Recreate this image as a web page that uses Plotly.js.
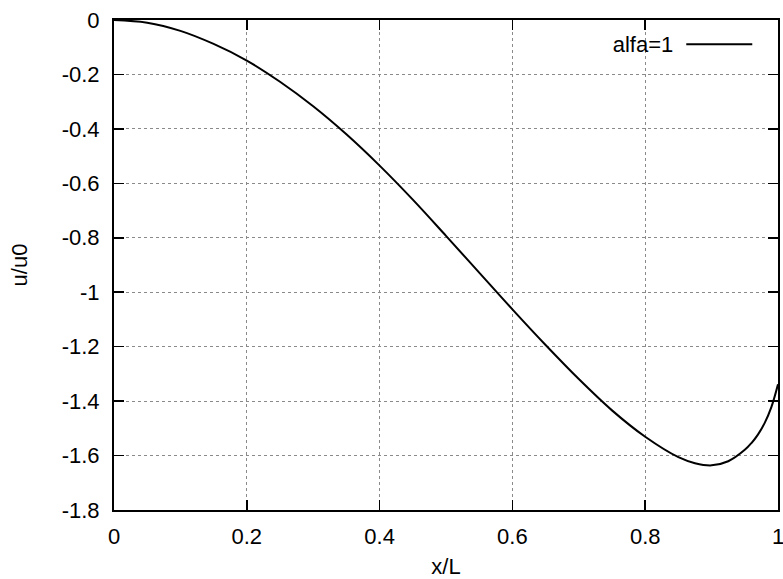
<!DOCTYPE html>
<html>
<head>
<meta charset="utf-8">
<script src="https://cdn.plot.ly/plotly-3.0.1.min.js"></script>
<style>html,body{margin:0;padding:0;background:#fff;}#chart{width:783px;height:579px;}</style>
</head>
<body>
<div id="chart"></div>
<script>
// Data
const seriesName = "alfa=1";
const xValues = [0, 0.05, 0.1, 0.15, 0.2, 0.25, 0.3, 0.35, 0.4, 0.45, 0.5, 0.55, 0.6, 0.65, 0.7, 0.75, 0.8, 0.85, 0.875, 0.9, 0.925, 0.95, 0.96, 0.97, 0.98, 0.99, 1.0];
const uValues = [0, -0.01, -0.04, -0.088, -0.149, -0.227, -0.317, -0.42, -0.535, -0.66, -0.793, -0.928, -1.063, -1.194, -1.319, -1.434, -1.531, -1.606, -1.628, -1.636, -1.621, -1.579, -1.554, -1.522, -1.48, -1.422, -1.338];
const xTickVals = [0, 0.2, 0.4, 0.6, 0.8, 1];
const xTickText = ["0", "0.2", "0.4", "0.6", "0.8", "1"];
const yTickVals = [0, -0.2, -0.4, -0.6, -0.8, -1, -1.2, -1.4, -1.6, -1.8];
const yTickText = ["0", "-0.2", "-0.4", "-0.6", "-0.8", "-1", "-1.2", "-1.4", "-1.6", "-1.8"];

const font = {family: "Liberation Sans, Arial, sans-serif", size: 22, color: "#000"};

const trace = {
  x: xValues, y: uValues, type: "scatter", mode: "lines",
  name: " ",
  line: {color: "#000", width: 2, shape: "spline", smoothing: 1},
  showlegend: true
};

const axisCommon = {
  showline: true, linecolor: "#000", linewidth: 2, mirror: "ticks",
  ticks: "inside", ticklen: 10, tickwidth: 1.5, tickcolor: "#000",
  showgrid: true, gridcolor: "#8a8a8a", gridwidth: 1, griddash: "dot",
  zeroline: false, tickfont: font, fixedrange: true,
  ticklabeloverflow: "allow"
};

const layout = {
  width: 783, height: 579,
  margin: {l: 114, r: 5, t: 20, b: 69},
  paper_bgcolor: "#fff", plot_bgcolor: "#fff",
  font: font,
  showlegend: true,
  xaxis: Object.assign({}, axisCommon, {
    range: [0, 1], tickmode: "array", tickvals: xTickVals, ticktext: xTickText,
    ticklabelstandoff: 6,
    title: {text: "x/L", font: font, standoff: 11}
  }),
  yaxis: Object.assign({}, axisCommon, {
    range: [-1.8, 0], tickmode: "array", tickvals: yTickVals, ticktext: yTickText,
    ticklabelstandoff: 8,
    title: {text: "u/u0", font: font, standoff: 28}
  }),
  legend: {
    x: 0.986, y: 0.993, xanchor: "right", yanchor: "top",
    bgcolor: "rgba(0,0,0,0)", borderwidth: 0,
    title: {text: seriesName, side: "left", font: font},
    itemwidth: 66, font: font, tracegroupgap: 0
  }
};

Plotly.newPlot("chart", [trace], layout, {staticPlot: true, displayModeBar: false});
</script>
</body>
</html>
